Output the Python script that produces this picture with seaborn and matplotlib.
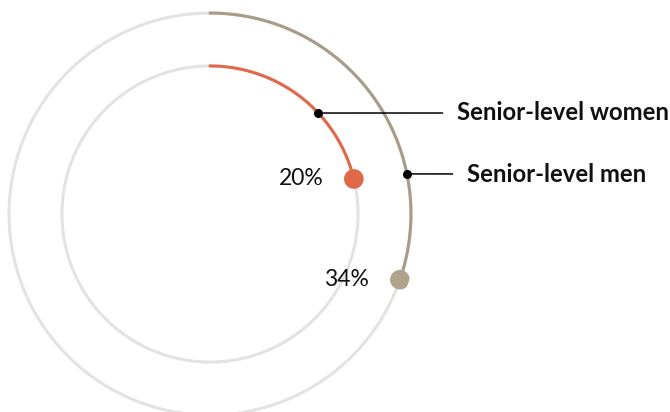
import numpy as np
import pandas as pd
import seaborn as sns
import matplotlib.pyplot as plt

# data
groups = ['Senior-level women', 'Senior-level men']
shares = [20, 34]                 # printed values (%)
arc_pct = [21.2, 30.3]            # part of the ring each arc covers, as drawn (%)
colors = ['#e0694a', '#a89c88']
dot_colors = ['#e0694a', '#b0a38c']

sns.set_theme(style='white')
plt.rcParams['font.family'] = ['Lato', 'DejaVu Sans']

W, H = 670, 412
fig = plt.figure(figsize=(W / 100, H / 100), dpi=100)
# polar axes centred on the rings, 1 unit of radius = 210 px
ax = fig.add_axes([0, (H - 214 - 210) / H, 420 / W, 420 / H], projection='polar')
ax.set_theta_zero_location('N')
ax.set_theta_direction(-1)
ax.set_ylim(0, 1)
ax.axis('off')

radii = [0.705, 0.957]

# grey full rings
full = np.linspace(0, 2 * np.pi, 500)
for r in radii:
    ax.plot(full, np.full_like(full, r), color='#e3e3e1', lw=2.2, zorder=1)

# coloured arcs
rows = []
for g, p, r in zip(groups, arc_pct, radii):
    th = np.linspace(0, 2 * np.pi * p / 100, 200)
    rows.append(pd.DataFrame({'theta': th, 'r': r, 'group': g}))
arcs = pd.concat(rows, ignore_index=True)
sns.lineplot(data=arcs, x='theta', y='r', hue='group', palette=dict(zip(groups, colors)),
             sort=False, estimator=None, legend=False, linewidth=2.2, ax=ax, zorder=2)

# end dots
ends = pd.DataFrame({'theta': [2 * np.pi * p / 100 for p in arc_pct], 'r': radii, 'group': groups})
sns.scatterplot(data=ends, x='theta', y='r', hue='group', palette=dict(zip(groups, dot_colors)),
                s=200, edgecolor='none', legend=False, ax=ax, zorder=3)

# value labels
for v, th, r in zip(shares, ends['theta'], radii):
    ax.annotate(f'{v}%', xy=(th, r), xytext=(-22, 0), textcoords='offset points',
                ha='right', va='center', fontsize=16.5, color='#111111')

# callouts
callout_deg = [47.0, 78.5]
text_pos = [(457, 113), (467, 174)]
for g, d, r, (tx, ty) in zip(groups, callout_deg, radii, text_pos):
    th = np.deg2rad(d)
    ax.plot([th], [r], 'o', color='black', ms=5.5, zorder=4)
    ax.annotate(g, xy=(th, r), xytext=(tx / W, 1 - ty / H), textcoords='figure fraction',
                ha='left', va='center', fontsize=17.2, fontweight='bold', color='#111111',
                arrowprops=dict(arrowstyle='-', color='black', lw=1.1, shrinkA=8, shrinkB=0))

fig.savefig('out.png', dpi=100)
